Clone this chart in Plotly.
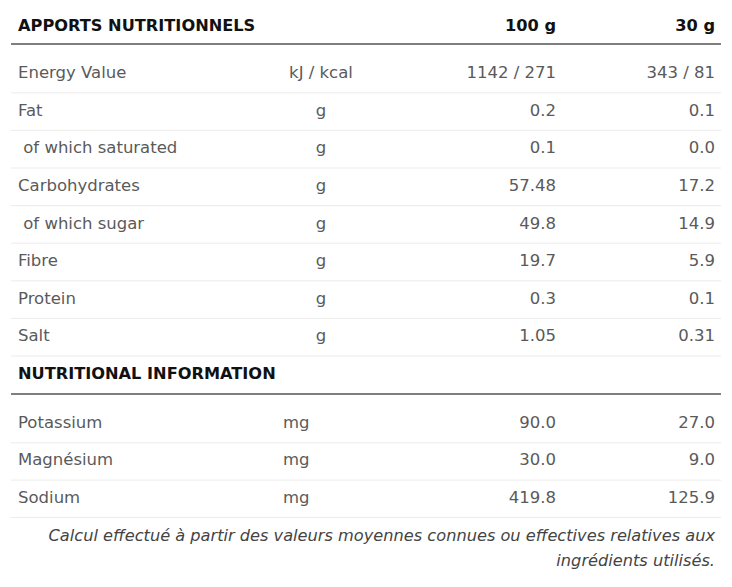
import plotly.graph_objects as go

# table content
section1_title = "APPORTS NUTRITIONNELS"
col_headers = ["100 g", "30 g"]
nutrients = ["Energy Value", "Fat", " of which saturated", "Carbohydrates",
             " of which sugar", "Fibre", "Protein", "Salt"]
units = ["kJ / kcal", "g", "g", "g", "g", "g", "g", "g"]
per100 = ["1142 / 271", "0.2", "0.1", "57.48", "49.8", "19.7", "0.3", "1.05"]
per30 = ["343 / 81", "0.1", "0.0", "17.2", "14.9", "5.9", "0.1", "0.31"]

section2_title = "NUTRITIONAL INFORMATION"
minerals = ["Potassium", "Magnésium", "Sodium"]
min_units = ["mg", "mg", "mg"]
min100 = ["90.0", "30.0", "419.8"]
min30 = ["27.0", "9.0", "125.9"]

footnote = ["Calcul effectué à partir des valeurs moyennes connues ou effectives relatives aux",
            "ingrédients utilisés."]

W, H = 732, 587
off = 8  # page body margin
x_left, x_unit, x_unit2, x_c1, x_c2 = 18, 321, 283, 556, 715
line_x0, line_x1 = 11, 721
step = 37.6
head1_y = 27
rows1_y = [74 + i * step for i in range(len(nutrients))]
head2_y = 375
rows2_y = [424 + i * 37.3 for i in range(len(minerals))]
foot_y = [537, 562]

body = dict(family="DejaVu Sans, sans-serif", size=16.5, color="#5a5a5a")
bold = dict(family="DejaVu Sans, sans-serif", size=16.2, color="#111111", weight="bold")

fig = go.Figure()


def txt(x, y, t, pos, font):
    fig.add_trace(go.Scatter(x=x, y=y, text=t, mode="text", textposition=pos,
                             textfont=font, hoverinfo="skip", showlegend=False))


# headers
txt([x_left], [head1_y], [section1_title], "middle right", bold)
txt([x_c1, x_c2], [head1_y] * 2, col_headers, "middle left", bold)
txt([x_left], [head2_y], [section2_title], "middle right", bold)

# section 1
txt([x_left] * len(nutrients), rows1_y, nutrients, "middle right", body)
txt([x_unit] * len(units), rows1_y, units, "middle center", body)
txt([x_c1] * len(per100), rows1_y, per100, "middle left", body)
txt([x_c2] * len(per30), rows1_y, per30, "middle left", body)

# section 2
txt([x_left] * len(minerals), rows2_y, minerals, "middle right", body)
txt([x_unit2] * len(min_units), rows2_y, min_units, "middle right", body)
txt([x_c1] * len(min100), rows2_y, min100, "middle left", body)
txt([x_c2] * len(min30), rows2_y, min30, "middle left", body)

# footnote
txt([x_c2] * len(footnote), foot_y, footnote, "middle left",
    dict(family="DejaVu Sans, sans-serif", size=16.2, color="#444444", style="italic"))

# rules
shapes = []
for y in (44, 394):
    shapes.append(dict(type="line", xref="x", yref="y", x0=line_x0, x1=line_x1,
                       y0=y, y1=y, line=dict(color="#555555", width=1.5)))
for ys in (rows1_y, rows2_y):
    for y in ys:
        shapes.append(dict(type="line", xref="x", yref="y", x0=line_x0, x1=line_x1,
                           y0=y + step / 2, y1=y + step / 2,
                           line=dict(color="#ebebeb", width=1)))

fig.update_layout(
    width=W - off, height=H - off, margin=dict(l=0, r=0, t=0, b=0),
    paper_bgcolor="white", plot_bgcolor="white", shapes=shapes,
    xaxis=dict(range=[off, W], visible=False, fixedrange=True),
    yaxis=dict(range=[H, off], visible=False, fixedrange=True),
)

fig.write_html("out.html")
